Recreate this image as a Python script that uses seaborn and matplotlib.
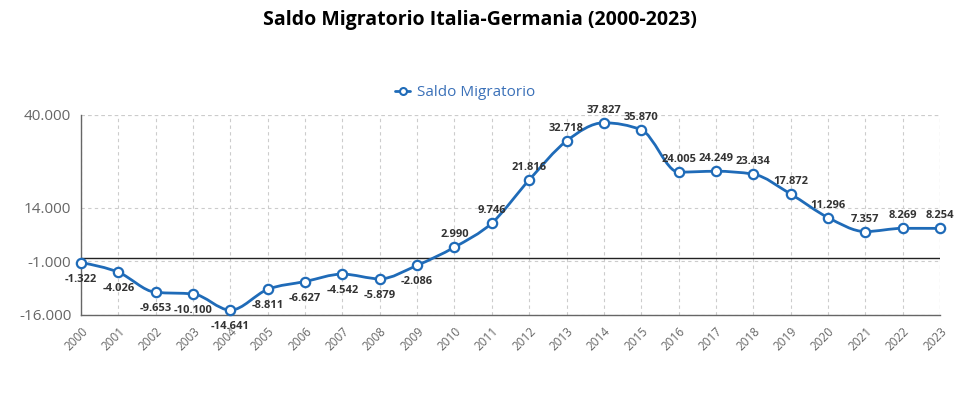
import numpy as np
import matplotlib
matplotlib.use("Agg")
import matplotlib.pyplot as plt
import seaborn as sns
from matplotlib.path import Path
from matplotlib.patches import PathPatch
from matplotlib.lines import Line2D

years = list(range(2000, 2024))
saldo = [-1322, -4026, -9653, -10100, -14641, -8811, -6627, -4542, -5879, -2086,
         2990, 9746, 21816, 32718, 37827, 35870, 24005, 24249, 23434, 17872,
         11296, 7357, 8269, 8254]
y_ticks = [-16000, -1000, 14000, 40000]
series_name = "Saldo Migratorio"
title = "Saldo Migratorio Italia-Germania (2000-2023)"

BLUE = "#1f6bb8"
GREY = "#666666"


def fmt(v):
    return f"{v:,.0f}".replace(",", ".")


def monotone_path(xs, ys):
    # same bezier construction as d3.curveMonotoneX
    x = np.asarray(xs, float)
    y = np.asarray(ys, float)
    n = len(x)
    h = np.diff(x)
    s = np.diff(y) / h
    t = np.zeros(n)
    for i in range(1, n - 1):
        p = (s[i - 1] * h[i] + s[i] * h[i - 1]) / (h[i - 1] + h[i])
        t[i] = (np.sign(s[i - 1]) + np.sign(s[i])) * min(abs(s[i - 1]), abs(s[i]), 0.5 * abs(p))
    t[0] = (3 * s[0] - t[1]) / 2
    t[-1] = (3 * s[-1] - t[-2]) / 2
    verts = [(x[0], y[0])]
    codes = [Path.MOVETO]
    for i in range(n - 1):
        dx = h[i] / 3
        verts += [(x[i] + dx, y[i] + dx * t[i]),
                  (x[i + 1] - dx, y[i + 1] - dx * t[i + 1]),
                  (x[i + 1], y[i + 1])]
        codes += [Path.CURVE4] * 3
    return Path(verts, codes)


sns.set_style("white")
plt.rcParams["font.family"] = ["Open Sans", "DejaVu Sans"]

fig = plt.figure(figsize=(9.6, 3.93), dpi=100)
ax = fig.add_axes([81 / 960, 1 - 315 / 393, (940 - 81) / 960, 200 / 393])
ax.set_xlim(2000, 2023)
ax.set_ylim(-16000, 40000)

ax.set_xticks(years)
ax.set_xticklabels([str(y) for y in years], rotation=45, ha="right", va="top",
                   rotation_mode="anchor", fontsize=8.5, color=GREY)
ax.set_yticks(y_ticks)
ax.set_yticklabels([fmt(v) for v in y_ticks], fontsize=11, color=GREY)
ax.tick_params(axis="both", length=4, width=1, color=GREY, pad=3)

ax.grid(True, linestyle=(0, (3, 3)), color="#cccccc", linewidth=0.8)
for s in ["top", "right"]:
    ax.spines[s].set_visible(False)
for s in ["left", "bottom"]:
    ax.spines[s].set_color(GREY)
    ax.spines[s].set_linewidth(1)
ax.axvline(2023, color="#cccccc", linestyle=(0, (3, 3)), linewidth=0.8)
ax.axhline(40000, color="#cccccc", linestyle=(0, (3, 3)), linewidth=0.8)
ax.axhline(0, color="#222222", linewidth=1, zorder=2)

ax.add_patch(PathPatch(monotone_path(years, saldo), facecolor="none",
                       edgecolor=BLUE, linewidth=2, zorder=3, clip_on=False))
sns.scatterplot(x=years, y=saldo, ax=ax, s=45, color="white", edgecolor=BLUE,
                linewidth=1.6, zorder=4, clip_on=False, legend=False)

for x, y in zip(years, saldo):
    off = 12.5 if y > 0 else -16.5
    ax.annotate(fmt(y), (x, y), xytext=(0, off), textcoords="offset pixels",
                ha="center", va="center", fontsize=8, fontweight="bold",
                color="#333333", zorder=5)

handle = Line2D([], [], color=BLUE, linewidth=2, marker="o", markersize=5,
                markerfacecolor="white", markeredgecolor=BLUE, markeredgewidth=1.5)
fig.legend([handle], [series_name], loc="center", bbox_to_anchor=(465 / 960, 1 - 93 / 393),
           frameon=False, fontsize=11, labelcolor="#3a70b8", handlelength=1.0,
           handletextpad=0.4)

fig.text(0.5, 1 - 20 / 393, title, ha="center", va="center", fontsize=14,
         fontweight="bold", color="black")

fig.savefig("out.png", dpi=100)
